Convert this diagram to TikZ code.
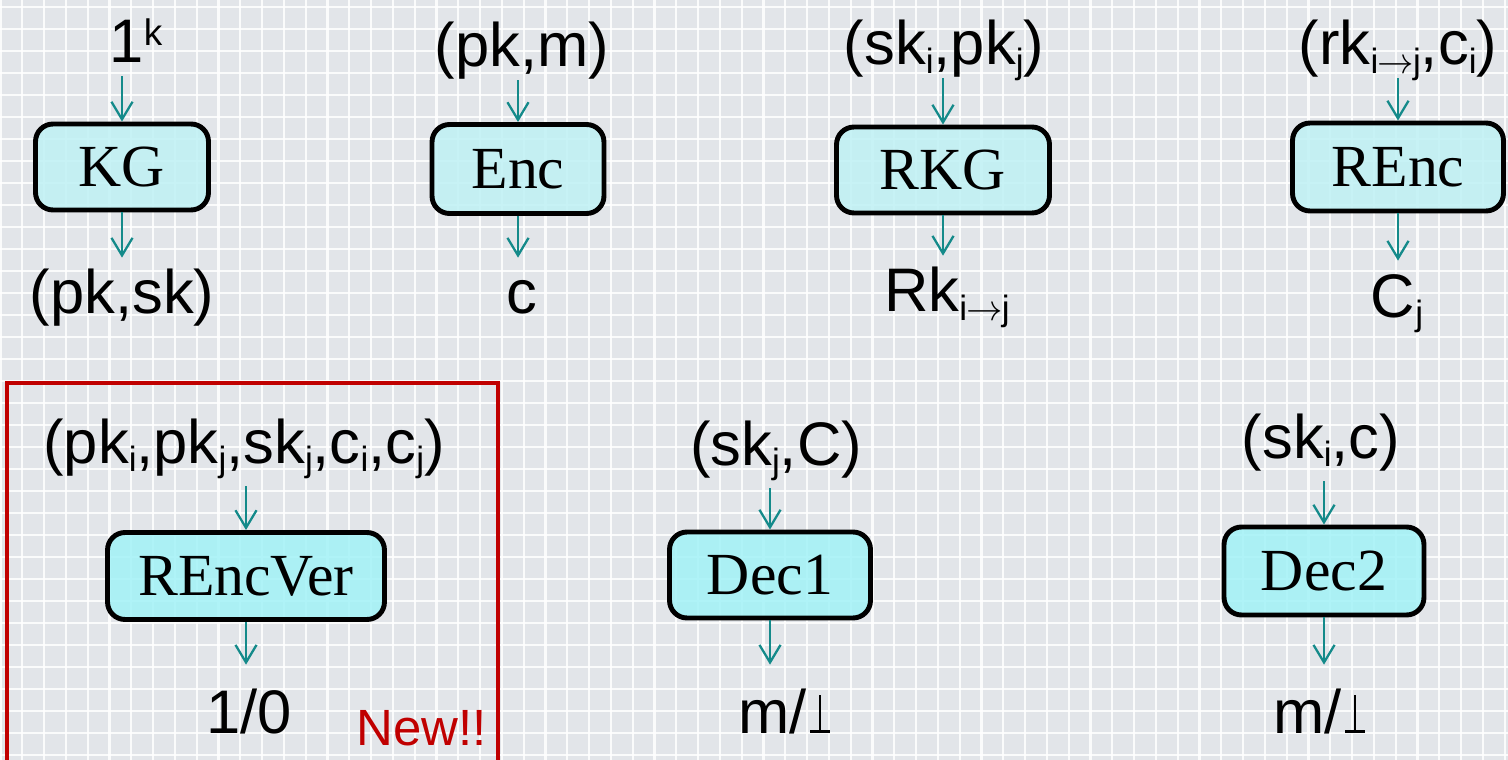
\documentclass[tikz,border=0pt]{standalone}
\usepackage{fontspec}
\setmainfont{Liberation Serif}
\newfontfamily\arial{Liberation Sans}
\usetikzlibrary{arrows.meta,positioning}

\definecolor{slate}{HTML}{E2E5E9}
\definecolor{flowteal}{HTML}{148A8A}
\definecolor{boxcyan}{HTML}{BFF1F4}
\definecolor{boxcyanb}{HTML}{A2F2F7}
\definecolor{newred}{HTML}{C00000}

% small lowered / raised indices in the argument labels
\newcommand{\lo}[1]{\raisebox{-5pt}{\fontsize{20}{20}\selectfont #1}}
\newcommand{\hi}[1]{\raisebox{10pt}{\fontsize{21}{21}\selectfont #1}}
\newcommand{\ito}{i\kern-0.5pt$\rightarrow$\kern-0.5pt j}
% tall thin "up tack" for the failure symbol
\newcommand{\fails}{\kern2pt\rlap{\rule{11pt}{1.5pt}}\kern4.75pt\rule{1.5pt}{21.5pt}\kern4.75pt\kern1pt}

\tikzset
{
    algbox/.style = {draw=black, line width=2.8pt, rounded corners=0.35cm, fill=boxcyan, fill opacity=0.85, text opacity=1, inner sep=0pt, font=\fontsize{34}{40}\selectfont},
    algboxb/.style = {algbox, fill=boxcyanb},
    arg/.style = {inner sep=0pt, anchor=base, font=\arial\fontsize{35}{40}\selectfont, text height=1.12cm, text depth=0.26cm},
    argb/.style = {arg, text height=1.36cm, text depth=0.46cm},
    flow/.style = {->, draw=flowteal, line width=1.3pt},
    gridline/.style = {draw=white, line width=1.3pt, opacity=0.85}
}

\begin{document}
\begin{tikzpicture}[x=0.02cm, y=-0.02cm, >={Straight Barb[length=10pt,width=12pt]}]
\useasboundingbox (0,0) rectangle (1508,760);

% backdrop
\fill[slate] (0,0) rectangle (1508,760);
\foreach \i in {0,...,69} \draw[gridline] ({0.5+21.8*\i},0) -- ++(0,760);
\foreach \i in {0,...,34} \draw[gridline] (0,{7+22*\i}) -- ++(1508,0);

% first row
\node[algbox, minimum width=3.46cm, minimum height=1.72cm] (kg) at (122,167) {KG};
\node[arg] (kg-in) at (136,63) {1\hi{k}};
\node[arg] (kg-out) at (122,314) {(pk,sk)};

\node[algbox, minimum width=3.44cm, minimum height=1.78cm] (enc) at (518,169) {Enc};
\node[arg] (enc-in) at (522,67) {(pk,m)};
\node[arg] (enc-out) at (522,314) {c};

\node[algbox, minimum width=4.26cm, minimum height=1.72cm] (rkg) at (943,170) {RKG};
\node[arg] (rkg-in) at (944,65) {(sk\lo{i},pk\lo{j})};
\node[arg] (rkg-out) at (947,312) {Rk\lo{\ito}};

\node[algbox, minimum width=4.22cm, minimum height=1.76cm] (renc) at (1398,167) {REnc};
\node[arg] (renc-in) at (1398,65) {(rk\lo{\ito},c\lo{i})};
\node[arg] (renc-out) at (1397,317) {C\lo{j}};

% second row
\draw[newred, line width=2.3pt] (7,383) rectangle (498,775);
\node[anchor=base, inner sep=0pt, text=newred, font=\arial\fontsize{29}{34}\selectfont] (new) at (422,745) {New!!};

\node[algboxb, minimum width=5.54cm, minimum height=1.74cm] (ver) at (246,576) {REncVer};
\node[argb] (ver-in) at (244,463) {(pk\lo{i},pk\lo{j},sk\lo{j},c\lo{i},c\lo{j})};
\node[argb] (ver-out) at (249,733) {1/0};

\node[algboxb, minimum width=4.02cm, minimum height=1.72cm] (deca) at (770,575) {Dec1};
\node[argb] (deca-in) at (776,465) {(sk\lo{j},C)};
\node[argb] (deca-out) at (785,733) {m/\fails};

\node[algboxb, minimum width=4.0cm, minimum height=1.76cm] (decb) at (1324,571) {Dec2};
\node[argb] (decb-in) at (1321,458) {(sk\lo{i},c)};
\node[argb] (decb-out) at (1320,733) {m/\fails};

% arrows in and out of every algorithm
\foreach \b in {kg,enc,rkg,renc,ver,deca,decb}
{
    \draw[flow] (\b.north |- \b-in.south) -- (\b.north);
    \draw[flow] (\b.south) -- (\b.south |- \b-out.north);
}
\end{tikzpicture}
\end{document}
